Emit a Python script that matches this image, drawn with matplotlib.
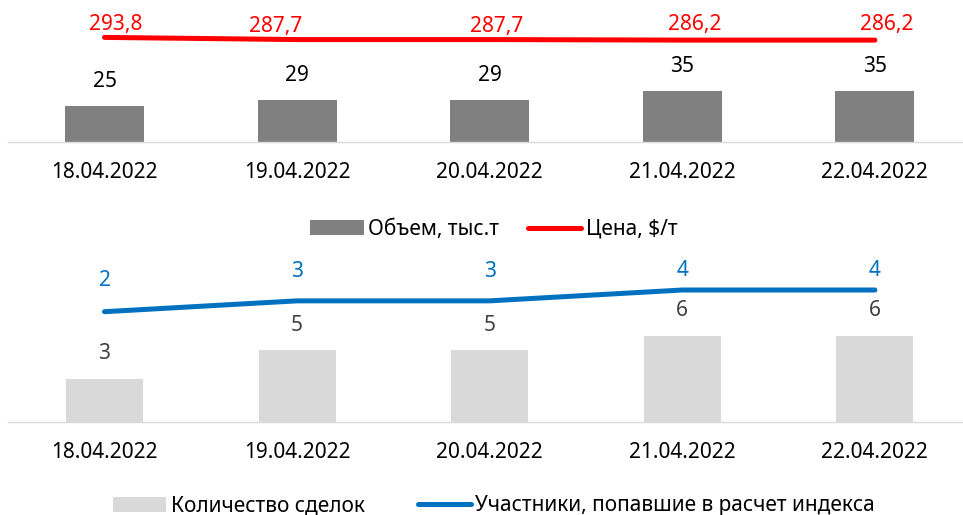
import matplotlib
matplotlib.use("Agg")
import matplotlib.pyplot as plt
from matplotlib.patches import Patch
from matplotlib.lines import Line2D

plt.rcParams['font.family'] = ['Noto Sans', 'DejaVu Sans']

dates = ["18.04.2022", "19.04.2022", "20.04.2022", "21.04.2022", "22.04.2022"]
volume = [25, 29, 29, 35, 35]
price = [293.8, 287.7, 287.7, 286.2, 286.2]
deals = [3, 5, 5, 6, 6]
participants = [2, 3, 3, 4, 4]

W, H = 963, 515
fig = plt.figure(figsize=(W / 100, H / 100), dpi=100)

FS = 15
PX = 0.72  # points per pixel
LW = 3.6

def fmt_ru(v):
    return f"{v:.1f}".replace(".", ",")

def make_axes(base_px, top_px):
    left = 8.2 / W
    bottom = (H - base_px) / H
    height = (base_px - top_px) / H
    ax = fig.add_axes([left, bottom, 1.0, height])
    ax.set_xlim(-0.5, len(dates) - 0.5)
    for s in ["top", "left", "right"]:
        ax.spines[s].set_visible(False)
    ax.spines["bottom"].set_color("#D9D9D9")
    ax.spines["bottom"].set_linewidth(1.0)
    ax.set_yticks([])
    ax.set_xticks(range(len(dates)))
    ax.set_xticklabels(dates, fontsize=FS, color="black")
    ax.tick_params(axis="x", length=0, pad=14.5)
    ax.patch.set_visible(False)
    return ax

x = list(range(len(dates)))

# ---------- top panel ----------
ax1 = make_axes(141.7, 20)
h1 = 141.7 - 20
ax1.set_ylim(0, h1 / 1.44)
ax1.bar(x, volume, width=0.41, color="#808080", zorder=2)
for xi, v in zip(x, volume):
    ax1.annotate(str(v), (xi, v), xytext=(0, 24.5 * PX), textcoords="offset points",
                 ha="center", va="center", fontsize=FS, color="black")
ax1b = ax1.twinx()
ax1b.set_ylim(0, h1 / 0.355)
ax1b.axis("off")
ax1b.plot(x, price, color="#FF0000", lw=LW, solid_capstyle="round", zorder=3)
red_dx = [11.5, -21.5, 7, 12.5, 12]
red_dy = [12.5, 13.3, 13.3, 16, 16]
for xi, v, dx, dy in zip(x, price, red_dx, red_dy):
    ax1b.annotate(fmt_ru(v), (xi, v), xytext=(dx * PX, dy * PX), textcoords="offset points",
                  ha="center", va="center", fontsize=FS, color="#FF0000")

fig.legend(handles=[Patch(facecolor="#808080", edgecolor="none", label="Объем, тыс.т"),
                    Line2D([0], [0], color="#FF0000", lw=LW, solid_capstyle="round", label="Цена, $/т")],
           loc="center", bbox_to_anchor=(494 / W, (H - 229.5) / H), ncol=2, frameon=False,
           fontsize=FS, handlelength=2.55, handleheight=0.7, handletextpad=0.22,
           columnspacing=1.4, borderpad=0, borderaxespad=0)

# ---------- bottom panel ----------
ax2 = make_axes(421.7, 270)
h2 = 421.7 - 270
ax2.set_ylim(0, h2 / 14.3)
ax2.bar(x, deals, width=0.40, color="#D9D9D9", zorder=2)
for xi, v in zip(x, deals):
    ax2.annotate(str(v), (xi, v), xytext=(0, 25 * PX), textcoords="offset points",
                 ha="center", va="center", fontsize=FS, color="#404040")
ax2b = ax2.twinx()
ymin2 = 2 - 110 / 10.85
ax2b.set_ylim(ymin2, ymin2 + h2 / 10.85)
ax2b.axis("off")
ax2b.plot(x, participants, color="#0070C0", lw=LW, solid_capstyle="round", zorder=3)
blue_dy = [31, 29, 29, 20, 20]
for xi, v, dy in zip(x, participants, blue_dy):
    ax2b.annotate(str(v), (xi, v), xytext=(0, dy * PX), textcoords="offset points",
                  ha="center", va="center", fontsize=FS, color="#0070C0")

fig.legend(handles=[Patch(facecolor="#D9D9D9", edgecolor="none", label="Количество сделок"),
                    Line2D([0], [0], color="#0070C0", lw=LW, solid_capstyle="round",
                           label="Участники, попавшие в расчет индекса")],
           loc="center", bbox_to_anchor=(494 / W, (H - 506) / H), ncol=2, frameon=False,
           fontsize=FS, handlelength=2.55, handleheight=0.7, handletextpad=0.22,
           columnspacing=2.55, borderpad=0, borderaxespad=0)

fig.savefig("out.png", dpi=100)
